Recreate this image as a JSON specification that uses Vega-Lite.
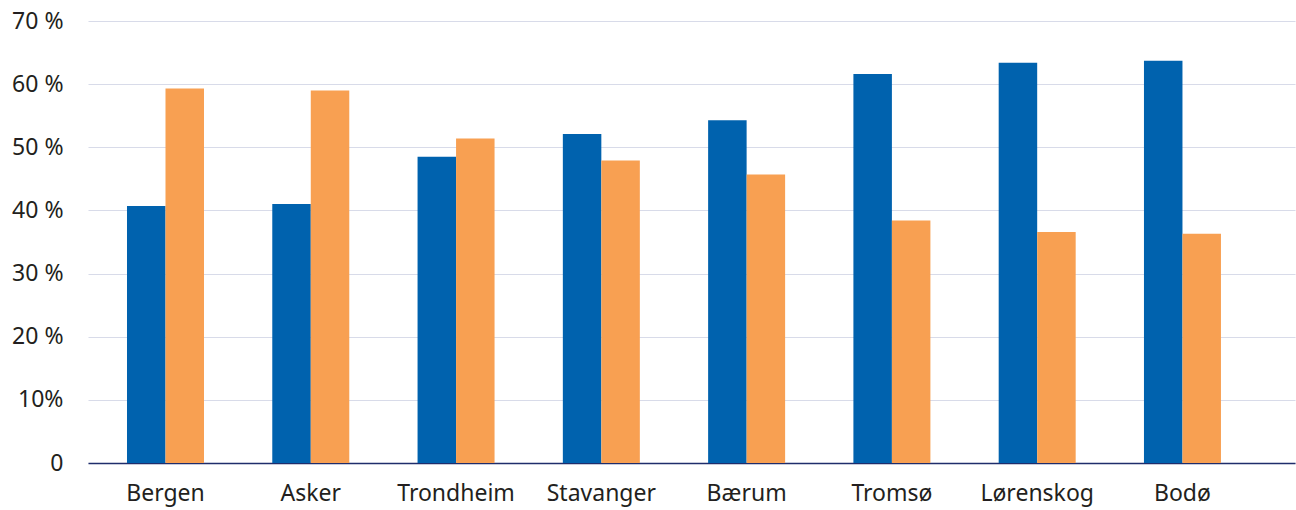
{
  "$schema": "https://vega.github.io/schema/vega-lite/v6.json",
  "width": 1207,
  "height": 442,
  "autosize": {"type": "none"},
  "padding": {"left": 88, "top": 21, "right": 1, "bottom": 47},
  "background": "#ffffff",
  "config": {"view": {"stroke": null}, "font": "Noto Sans"},
  "data": {
    "values": [
      {"by": "Bergen", "serie": "A", "andel": 40.7},
      {"by": "Bergen", "serie": "B", "andel": 59.3},
      {"by": "Asker", "serie": "A", "andel": 41.0},
      {"by": "Asker", "serie": "B", "andel": 59.0},
      {"by": "Trondheim", "serie": "A", "andel": 48.5},
      {"by": "Trondheim", "serie": "B", "andel": 51.4},
      {"by": "Stavanger", "serie": "A", "andel": 52.1},
      {"by": "Stavanger", "serie": "B", "andel": 47.9},
      {"by": "Bærum", "serie": "A", "andel": 54.3},
      {"by": "Bærum", "serie": "B", "andel": 45.7},
      {"by": "Tromsø", "serie": "A", "andel": 61.6},
      {"by": "Tromsø", "serie": "B", "andel": 38.4},
      {"by": "Lørenskog", "serie": "A", "andel": 63.4},
      {"by": "Lørenskog", "serie": "B", "andel": 36.6},
      {"by": "Bodø", "serie": "A", "andel": 63.7},
      {"by": "Bodø", "serie": "B", "andel": 36.3}
    ]
  },
  "mark": {"type": "bar"},
  "encoding": {
    "x": {
      "field": "by",
      "type": "nominal",
      "sort": null,
      "scale": {"paddingInner": 0.47, "paddingOuter": 0.389, "align": 0.345},
      "axis": {
        "title": null,
        "labelAngle": 0,
        "ticks": false,
        "domainColor": "#1F2D6B",
        "domainWidth": 1.5,
        "labelFontSize": 23,
        "labelColor": "#231F20",
        "labelPadding": 19,
        "labelFont": "Noto Sans"
      }
    },
    "xOffset": {"field": "serie", "type": "nominal", "scale": {"paddingInner": 0, "paddingOuter": 0}},
    "y": {
      "field": "andel",
      "type": "quantitative",
      "scale": {"domain": [0, 70], "nice": false},
      "axis": {
        "title": null,
        "values": [0, 10, 20, 30, 40, 50, 60, 70],
        "labelExpr": "datum.value == 0 ? '0' : datum.value == 10 ? '10%' : datum.value + ' %'",
        "domain": false,
        "ticks": false,
        "gridColor": "#D8DBE9",
        "gridWidth": 1.2,
        "labelFontSize": 23,
        "labelColor": "#231F20",
        "labelPadding": 25,
        "labelFont": "Noto Sans"
      }
    },
    "color": {
      "field": "serie",
      "type": "nominal",
      "scale": {"domain": ["A", "B"], "range": ["#0062AE", "#F8A052"]},
      "legend": null
    }
  }
}
